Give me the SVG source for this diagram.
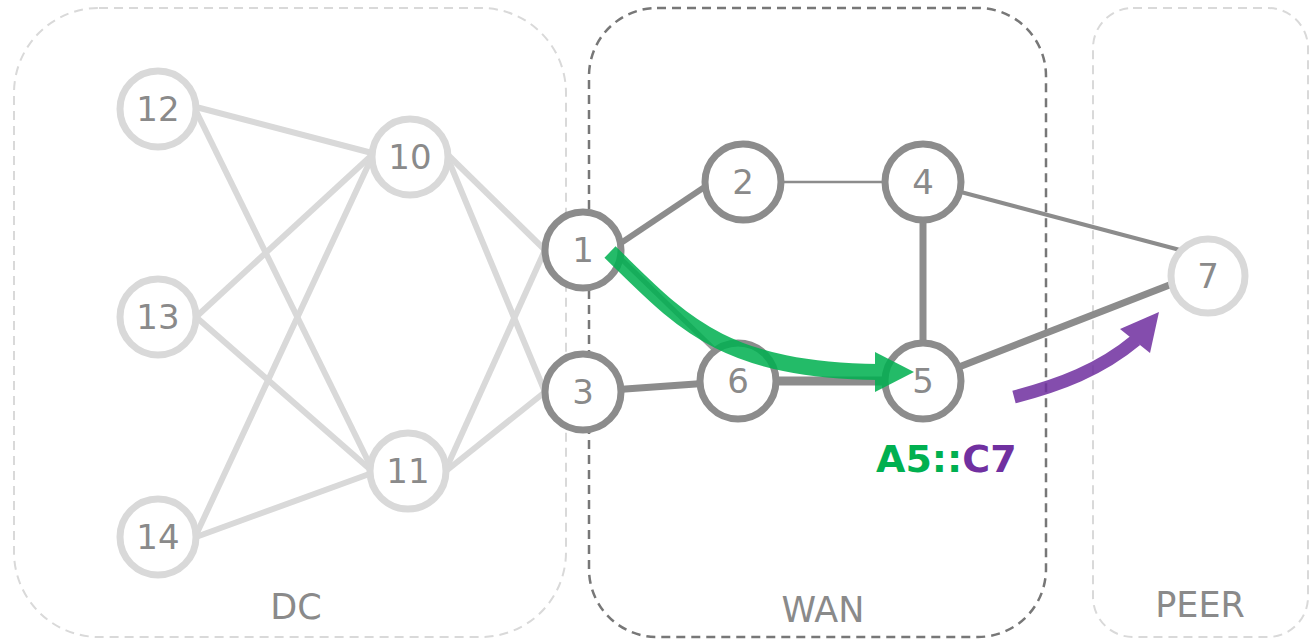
<svg xmlns="http://www.w3.org/2000/svg" width="1314" height="640" viewBox="0 0 1314 640">
<style>
  .grp-light{fill:none;stroke:#d9d9d9;stroke-width:2;stroke-dasharray:9 6}
  .grp-dark{fill:none;stroke:#777;stroke-width:2.5;stroke-dasharray:9 6}
  .glabel{font-family:"DejaVu Sans",Verdana,sans-serif;font-size:35px;fill:#8a8a8a;text-anchor:middle}
  .e-light{stroke:#d9d9d9;stroke-width:6;fill:none}
  .e-dark{stroke:#8c8c8c;fill:none}
  .n-light{fill:#fff;stroke:#d9d9d9;stroke-width:7}
  .n-dark{fill:#fff;stroke:#8c8c8c;stroke-width:7}
  .nl{font-family:"DejaVu Sans",Verdana,sans-serif;font-size:34px;fill:#8a8a8a;text-anchor:middle}
</style>
<rect width="1314" height="640" fill="#fff"/>
<g id="groups">
  <rect class="grp-light" x="14" y="8" width="552" height="629" rx="85" ry="85"/>
  <rect class="grp-dark" x="589" y="8" width="457" height="629" rx="68" ry="68"/>
  <rect class="grp-light" x="1093" y="8" width="215" height="629" rx="40" ry="40"/>
  <text class="glabel" x="296" y="619">DC</text>
  <text class="glabel" x="823" y="622">WAN</text>
  <text class="glabel" x="1200" y="617">PEER</text>
</g>
<g id="connectors">
  <line class="e-light" x1="196" y1="107" x2="372" y2="153"/>
  <line class="e-light" x1="196" y1="111" x2="372" y2="469"/>
  <line class="e-light" x1="196" y1="317" x2="372" y2="155"/>
  <line class="e-light" x1="196" y1="317" x2="372" y2="471"/>
  <line class="e-light" x1="196" y1="535" x2="372" y2="157"/>
  <line class="e-light" x1="196" y1="537" x2="372" y2="473"/>
  <line class="e-light" x1="448" y1="155" x2="545" y2="250"/>
  <line class="e-light" x1="448" y1="159" x2="545" y2="392"/>
  <line class="e-light" x1="446" y1="469" x2="545" y2="250"/>
  <line class="e-light" x1="446" y1="471" x2="545" y2="392"/>
  <line class="e-dark" stroke-width="6" x1="615" y1="247" x2="712" y2="182"/>
  <line class="e-dark" stroke-width="2.5" x1="743" y1="182" x2="923" y2="182"/>
  <line class="e-dark" stroke-width="7" x1="923" y1="182" x2="923" y2="381"/>
  <line stroke="#9a9a9a" stroke-width="5" x1="612" y1="250" x2="720" y2="355"/>
  <line class="e-dark" stroke-width="7" x1="583" y1="392" x2="738" y2="381"/>
  <line class="e-dark" stroke-width="9" x1="738" y1="381" x2="923" y2="381"/>
  <line class="e-dark" stroke-width="4" x1="923" y1="182" x2="1180" y2="250"/>
  <line class="e-dark" stroke-width="7" x1="923" y1="381" x2="1208" y2="270"/>
</g>
<g id="n12"><circle class="n-light" cx="158" cy="109" r="38"/><text class="nl" x="158" y="121">12</text></g>
<g id="n13"><circle class="n-light" cx="158" cy="317" r="38"/><text class="nl" x="158" y="329">13</text></g>
<g id="n14"><circle class="n-light" cx="158" cy="537" r="38"/><text class="nl" x="158" y="549">14</text></g>
<g id="n10"><circle class="n-light" cx="410" cy="157" r="38"/><text class="nl" x="410" y="169">10</text></g>
<g id="n11"><circle class="n-light" cx="408" cy="471" r="38"/><text class="nl" x="408" y="483">11</text></g>
<g id="n1"><circle class="n-dark" cx="583" cy="250" r="38"/><text class="nl" x="583" y="262">1</text></g>
<g id="n3"><circle class="n-dark" cx="583" cy="392" r="38"/><text class="nl" x="583" y="404">3</text></g>
<g id="n2"><circle class="n-dark" cx="743" cy="182" r="38"/><text class="nl" x="743" y="194">2</text></g>
<g id="n4"><circle class="n-dark" cx="923" cy="182" r="38"/><text class="nl" x="923" y="194">4</text></g>
<g id="n6"><circle class="n-dark" cx="738" cy="381" r="38"/><text class="nl" x="738" y="393">6</text></g>
<g id="n5"><circle class="n-dark" cx="923" cy="381" r="38"/><text class="nl" x="923" y="393">5</text></g>
<g id="n7"><circle class="n-light" cx="1208" cy="276" r="37"/><text class="nl" x="1208" y="288">7</text></g>
<g id="flows">
  <g opacity="0.86">
    <path d="M610,252 C680,320 720,370 878,372" fill="none" stroke="#00b050" stroke-width="16"/>
    <polygon points="875,352 914,372 875,392" fill="#00b050"/>
  </g>
  <g opacity="0.86">
    <path d="M1014,397 C1060,385 1100,370 1136,340" fill="none" stroke="#7030a0" stroke-width="13"/>
    <polygon points="1120,329 1159,312 1150,353" fill="#7030a0"/>
  </g>
  <text x="876" y="472" font-family="'DejaVu Sans',Verdana,sans-serif" font-size="38" font-weight="bold"><tspan fill="#00b050">A5::</tspan><tspan fill="#7030a0">C7</tspan></text>
</g>
</svg>
